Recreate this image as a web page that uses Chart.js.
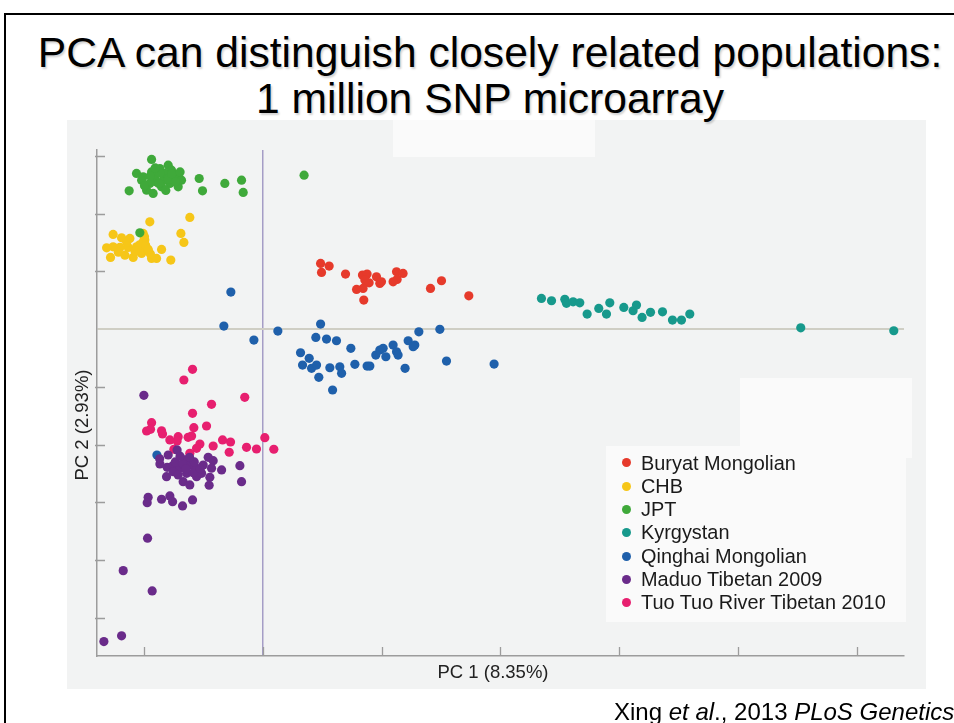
<!DOCTYPE html>
<html>
<head>
<meta charset="utf-8">
<title>PCA – 1 million SNP microarray</title>
<script src="https://cdn.jsdelivr.net/npm/chart.js@4.4.1/dist/chart.umd.min.js"></script>
<style>
  html, body { margin: 0; padding: 0; background: #ffffff; }
  body {
    width: 954px; height: 723px; position: relative; overflow: hidden;
    font-family: "Liberation Sans", Arial, Helvetica, sans-serif; color: #000;
  }
  #frame {
    position: absolute; left: 4px; top: 13px; width: 1000px; height: 800px;
    border-left: 2px solid #000; border-top: 2px solid #000;
  }
  #panel { position: absolute; left: 67px; top: 120px; width: 859px; height: 569px; background: #f2f3f3; }
  .patch { position: absolute; background: #fafafa; }
  #title {
    position: absolute; left: 0; top: 29px; width: 980px; margin: 0;
    text-align: center; font-weight: normal; font-size: 42.6px; line-height: 46px;
    text-shadow: 1.5px 1.5px 2px rgba(0,0,0,0.18);
  }
  #chart { position: absolute; left: 0; top: 0; }
  .axis-title { position: absolute; font-size: 18.5px; line-height: 20px; color: #222; white-space: nowrap; }
  #xTitle { left: 393px; width: 200px; text-align: center; top: 662px; }
  #yTitle { left: -18px; width: 200px; text-align: center; top: 415px; transform: rotate(-90deg); }
  #legend { position: absolute; left: 616px; top: 451.6px; }
  .row { position: relative; height: 23.3px; line-height: 23.3px; font-size: 19.9px; color: #1a1a1a; padding-left: 25px; white-space: nowrap; }
  .dot { position: absolute; left: 5.5px; top: 6.9px; width: 9px; height: 9px; border-radius: 50%; }
  #cite { position: absolute; left: 614px; top: 700px; font-size: 24px; line-height: 24px; white-space: nowrap; color: #000; }
</style>
</head>
<body>
<div id="frame"></div>
<div id="panel"></div>
<div class="patch" style="left:393px;top:120px;width:202px;height:37px;"></div>
<div class="patch" style="left:740px;top:378px;width:172px;height:80px;"></div>
<div class="patch" style="left:606px;top:446px;width:300px;height:176px;"></div>

<h1 id="title">PCA can distinguish closely related populations:<br>1 million SNP microarray</h1>

<canvas id="chart" width="954" height="723"></canvas>

<div id="xTitle" class="axis-title">PC 1 (8.35%)</div>
<div id="yTitle" class="axis-title">PC 2 (2.93%)</div>
<div id="legend"></div>
<div id="cite">Xing <i>et al</i>., 2013 <i>PLoS Genetics</i></div>

<script>
// Population names and colours (legend order)
const populations = [
  "Buryat Mongolian", "CHB", "JPT", "Kyrgystan",
  "Qinghai Mongolian", "Maduo Tibetan 2009", "Tuo Tuo River Tibetan 2010"
];
const colors = ["#e63a2b", "#f6c618", "#3fa93a", "#17998c", "#1f60ab", "#6a2b8a", "#e71f6f"];

// Axis ranges and tick positions (PC units as drawn, no tick labels)
const xRange = [-1.4, 5.4];
const yRange = [-5.66, 3.1];
const xTickValues = [-1, 0, 1, 2, 3, 4, 5];
const yTickValues = [3, 2, 1, -1, -2, -3, -4, -5];

// Sample scores per population: [PC1, PC2]
const buryatMongolian = [
  [0.484, 1.137], [0.556, 1.090], [0.492, 0.981], [0.694, 0.952], [0.837, 0.934],
  [0.876, 0.952], [0.955, 0.905], [0.983, 0.791], [0.893, 0.801], [0.842, 0.704],
  [0.787, 0.687], [0.848, 0.502], [1.124, 0.991], [1.179, 0.964], [1.129, 0.860],
  [1.095, 0.818], [0.997, 0.818], [1.410, 0.704], [1.503, 0.836], [1.733, 0.576],
  [0.857, 0.848]
];
const chb = [
  [-0.955, 1.856], [-0.618, 1.933], [-1.264, 1.638], [-1.193, 1.580], [-1.123, 1.569],
  [-1.011, 1.656], [-0.997, 1.540], [-1.011, 1.424], [-1.067, 1.424], [-1.137, 1.413],
  [-1.207, 1.413], [-1.264, 1.424], [-1.319, 1.407], [-1.286, 1.240], [-1.165, 1.280],
  [-1.095, 1.240], [-1.024, 1.310], [-0.940, 1.223], [-0.898, 1.223], [-0.856, 1.379],
  [-0.778, 1.194], [-0.693, 1.656], [-0.668, 1.500], [-1.011, 1.510], [-1.039, 1.337],
  [-0.969, 1.367], [-1.040, 1.460], [-0.990, 1.450], [-1.080, 1.350], [-0.950, 1.300],
  [-1.150, 1.500], [-1.220, 1.330], [-1.000, 1.600], [-0.970, 1.380]
];
const jpt = [
  [-0.940, 2.936], [-1.067, 2.694], [-1.011, 2.635], [-0.940, 2.721], [-0.870, 2.780],
  [-0.800, 2.837], [-0.772, 2.751], [-0.730, 2.664], [-0.688, 2.578], [-0.716, 2.462],
  [-0.786, 2.521], [-0.842, 2.578], [-0.898, 2.548], [-0.955, 2.521], [-0.982, 2.405],
  [-0.927, 2.348], [-1.024, 2.578], [-1.129, 2.393], [-0.828, 2.694], [-0.912, 2.635],
  [-0.856, 2.462], [-0.758, 2.607], [-0.539, 2.607], [-0.511, 2.393], [-0.323, 2.521],
  [-0.182, 2.578], [-0.168, 2.365], [0.345, 2.664], [-1.039, 1.666],
  [-0.870, 2.700], [-0.800, 2.600], [-0.740, 2.550], [-0.950, 2.650], [-1.000, 2.480],
  [-0.880, 2.520], [-0.820, 2.400], [-0.770, 2.690], [-0.700, 2.720], [-0.910, 2.790]
];
const kyrgystan = [
  [2.345, 0.531], [2.430, 0.490], [2.542, 0.514], [2.556, 0.445], [2.612, 0.472],
  [2.668, 0.455], [2.730, 0.260], [2.828, 0.358], [2.893, 0.260], [2.921, 0.455],
  [3.039, 0.375], [3.117, 0.317], [3.146, 0.415], [3.193, 0.202], [3.264, 0.289],
  [3.365, 0.299], [3.449, 0.156], [3.525, 0.156], [3.595, 0.260], [4.530, 0.022],
  [5.314, -0.029]
];
const qinghaiMongolian = [
  [-0.272, 0.640], [-0.331, 0.052], [-0.078, -0.190], [0.124, -0.035], [0.484, 0.087],
  [0.444, -0.144], [0.534, -0.173], [0.618, -0.202], [0.739, -0.334], [0.315, -0.410],
  [0.388, -0.507], [0.332, -0.623], [0.408, -0.680], [0.450, -0.623], [0.469, -0.836],
  [0.562, -0.670], [0.646, -0.652], [0.661, -0.766], [0.585, -1.055], [0.773, -0.611],
  [0.876, -0.640], [0.899, -0.640], [0.949, -0.450], [0.983, -0.363], [1.011, -0.334],
  [1.034, -0.479], [1.095, -0.277], [1.124, -0.393], [1.137, -0.450], [1.196, -0.680],
  [1.222, -0.202], [1.278, -0.277], [1.264, -0.306], [1.312, -0.047], [1.489, -0.005],
  [1.545, -0.554], [1.946, -0.606], [-0.895, -2.180]
];
const maduoTibetan2009 = [
  [-1.005, -1.147], [-0.870, -2.336], [-0.800, -2.180], [-0.725, -2.093], [-0.809, -2.393],
  [-0.763, -2.370], [-0.702, -2.410], [-0.660, -2.266], [-0.618, -2.353], [-0.561, -2.410],
  [-0.505, -2.353], [-0.463, -2.220], [-0.421, -2.279], [-0.435, -2.410], [-0.350, -2.439],
  [-0.196, -2.365], [-0.182, -2.642], [-0.814, -2.555], [-0.674, -2.642], [-0.618, -2.699],
  [-0.561, -2.555], [-0.449, -2.566], [-0.455, -2.704], [-0.758, -2.469], [-0.716, -2.526],
  [-0.645, -2.497], [-0.590, -2.486], [-0.519, -2.497], [-0.969, -2.912], [-0.977, -3.005],
  [-0.856, -2.946], [-0.786, -2.889], [-0.763, -2.988], [-0.679, -3.062], [-0.595, -2.958],
  [-0.974, -3.621], [-1.179, -4.182], [-0.935, -4.533], [-1.193, -5.311], [-1.342, -5.410],
  [-0.740, -2.300], [-0.680, -2.330], [-0.580, -2.300], [-0.650, -2.420], [-0.700, -2.200],
  [-0.530, -2.420], [-0.620, -2.220], [-0.872, -2.245]
];
const tuoTuoRiverTibetan2010 = [
  [-0.595, -0.697], [-0.668, -0.882], [-0.155, -1.182], [-0.435, -1.303], [-0.595, -1.458],
  [-0.940, -1.621], [-0.982, -1.765], [-0.949, -1.735], [-0.856, -1.760], [-0.848, -1.817],
  [-0.584, -1.708], [-0.477, -1.678], [-0.716, -1.863], [-0.632, -1.874], [-0.603, -1.851],
  [-0.725, -1.938], [-0.533, -1.990], [-0.561, -2.064], [-0.618, -2.151], [-0.752, -2.081],
  [-0.342, -1.920], [-0.275, -1.955], [-0.421, -2.024], [-0.286, -2.133], [-0.140, -2.047],
  [-0.056, -2.076], [0.014, -1.881], [0.090, -2.081], [-0.786, -1.920]
];

const seriesValues = [
  buryatMongolian, chb, jpt, kyrgystan, qinghaiMongolian, maduoTibetan2009, tuoTuoRiverTibetan2010
];
// Stacking of overlapping clouds (lower = drawn on top)
const drawOrder = [0, 2, 1, 0, 3, 1, 2];

const datasets = populations.map((name, i) => ({
  label: name,
  data: seriesValues[i].map(([x, y]) => ({ x, y })),
  backgroundColor: colors[i],
  borderWidth: 0,
  pointRadius: 4.6,
  pointHoverRadius: 4.6,
  order: drawOrder[i]
}));

// Inward tick marks along both axes
const innerTicks = {
  id: 'innerTicks',
  afterDraw(chart) {
    const { ctx, chartArea, scales } = chart;
    ctx.save();
    ctx.strokeStyle = '#9c9c9c';
    ctx.lineWidth = 1.3;
    ctx.beginPath();
    xTickValues.forEach(v => {
      const px = Math.round(scales.x.getPixelForValue(v)) + 0.5;
      ctx.moveTo(px, chartArea.bottom);
      ctx.lineTo(px, chartArea.bottom - 9);
    });
    yTickValues.forEach(v => {
      const py = Math.round(scales.y.getPixelForValue(v)) + 0.5;
      ctx.moveTo(chartArea.left - 2, py);
      ctx.lineTo(chartArea.left + 8, py);
    });
    ctx.stroke();
    ctx.restore();
  }
};

new Chart(document.getElementById('chart'), {
  type: 'scatter',
  data: { datasets },
  options: {
    responsive: false,
    animation: false,
    events: [],
    layout: { padding: { left: 97, top: 150, right: 50, bottom: 67 } },
    plugins: { legend: { display: false }, tooltip: { enabled: false } },
    scales: {
      x: {
        type: 'linear', min: xRange[0], max: xRange[1],
        ticks: { display: false, stepSize: 1 },
        grid: {
          drawTicks: false,
          color: c => (c.tick && c.tick.value === 0) ? '#a59dc6' : 'rgba(0,0,0,0)',
          lineWidth: 1.5
        },
        border: { display: true, color: '#9c9c9c', width: 1.5 }
      },
      y: {
        type: 'linear', min: yRange[0], max: yRange[1],
        ticks: { display: false, stepSize: 1 },
        grid: {
          drawTicks: false,
          color: c => (c.tick && c.tick.value === 0) ? '#cfcec4' : 'rgba(0,0,0,0)',
          lineWidth: 2
        },
        border: { display: true, color: '#9c9c9c', width: 1.5 }
      }
    }
  },
  plugins: [innerTicks]
});

// Legend rows built from the same names and colours
const legend = document.getElementById('legend');
populations.forEach((name, i) => {
  const row = document.createElement('div');
  row.className = 'row';
  const dot = document.createElement('span');
  dot.className = 'dot';
  dot.style.background = colors[i];
  row.appendChild(dot);
  row.appendChild(document.createTextNode(name));
  legend.appendChild(row);
});
</script>
</body>
</html>
